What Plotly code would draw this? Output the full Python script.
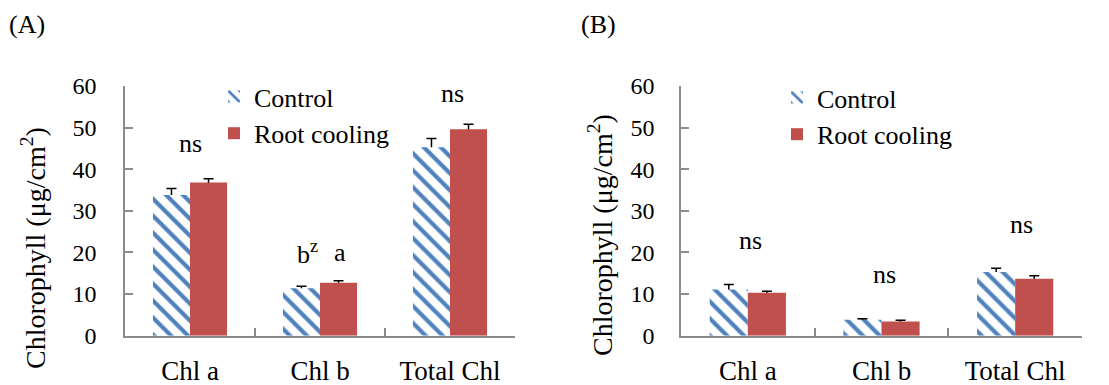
import plotly.graph_objects as go

categories = ["Chl a", "Chl b", "Total Chl"]

a_control = [33.8, 11.4, 45.3]
a_control_err = [1.6, 0.5, 2.1]
a_root = [36.8, 12.7, 49.6]
a_root_err = [0.9, 0.5, 1.2]

b_control = [11.1, 3.85, 15.3]
b_control_err = [1.2, 0.2, 0.9]
b_root = [10.3, 3.4, 13.7]
b_root_err = [0.4, 0.3, 0.7]

y_ticks = [0, 10, 20, 30, 40, 50, 60]

FONT = "Liberation Serif"
BLUE = "#4F81BD"
RED = "#C0504D"
AXIS = "#8C8C8C"

fig = go.Figure()

def add_panel(ctrl, ctrl_err, root, root_err, xa, ya, legend):
    # error bars drawn first (bars hide their lower half)
    for vals, errs, grp in ((ctrl, ctrl_err, "c"), (root, root_err, "r")):
        fig.add_trace(go.Bar(
            x=categories, y=vals, xaxis=xa, yaxis=ya, offsetgroup=grp,
            marker=dict(color="rgba(0,0,0,0)", line=dict(width=0)),
            error_y=dict(type="data", array=errs, color="black",
                         thickness=1.5, width=5),
            showlegend=False, hoverinfo="skip"))
    fig.add_trace(go.Bar(
        x=categories, y=ctrl, name="Control", xaxis=xa, yaxis=ya, legend=legend,
        offsetgroup="c",
        marker=dict(color="white", line=dict(width=0),
                    pattern=dict(shape="\\", fgcolor=BLUE, bgcolor="white",
                                 size=12, solidity=0.35, fillmode="replace"))))
    fig.add_trace(go.Bar(
        x=categories, y=root, name="Root cooling", xaxis=xa, yaxis=ya, legend=legend,
        offsetgroup="r",
        marker=dict(color=RED, line=dict(width=0))))

add_panel(a_control, a_control_err, a_root, a_root_err, "x", "y", "legend")
add_panel(b_control, b_control_err, b_root, b_root_err, "x2", "y2", "legend2")

ydom = [1 - 335.7 / 385, 1 - 86 / 385]

xaxis_common = dict(
    type="category", showline=True, linecolor=AXIS, linewidth=1.5,
    ticks="inside", tickson="boundaries", ticklen=8, tickcolor=AXIS, tickwidth=1.5,
    tickfont=dict(family=FONT, size=27, color="black"),
    showgrid=False, zeroline=False, ticklabelstandoff=10, automargin=False,
)
yaxis_common = dict(
    range=[0, 60], tickvals=y_ticks, showline=True, linecolor=AXIS, linewidth=1.5,
    ticks="inside", ticklen=8, tickcolor=AXIS, tickwidth=1.5,
    tickfont=dict(family=FONT, size=24, color="black"),
    showgrid=False, zeroline=False, automargin=False,
)

fig.update_layout(
    width=1109, height=385, autosize=False,
    margin=dict(l=0, r=0, t=0, b=0, pad=0, autoexpand=False),
    paper_bgcolor="white", plot_bgcolor="white",
    barmode="group", bargap=0.43, bargroupgap=0,
    font=dict(family=FONT, size=26, color="black"),
    xaxis=dict(domain=[125 / 1109, 515 / 1109], anchor="y", **xaxis_common),
    yaxis=dict(domain=ydom, anchor="x", ticklabelstandoff=22, **yaxis_common),
    xaxis2=dict(domain=[681 / 1109, 1082 / 1109], anchor="y2", **xaxis_common),
    yaxis2=dict(domain=ydom, anchor="x2", ticklabelstandoff=20, **yaxis_common),
    legend=dict(x=214 / 1109, y=1 - 73 / 385, xanchor="left", yanchor="top",
                bgcolor="rgba(0,0,0,0)", font=dict(family=FONT, size=26),
                itemwidth=30, tracegroupgap=0),
    legend2=dict(x=777 / 1109, y=1 - 74 / 385, xanchor="left", yanchor="top",
                 bgcolor="rgba(0,0,0,0)", font=dict(family=FONT, size=26),
                 itemwidth=30, tracegroupgap=0),
)

ann = []
def label(text, x, y, xref, yref, xshift=0, size=26):
    ann.append(dict(text=text, x=x, y=y, xref=xref, yref=yref, xshift=xshift,
                    showarrow=False, xanchor="center", yanchor="middle",
                    font=dict(family=FONT, size=size, color="black")))

# Panel A significance labels
label("ns", "Chl a", 46.3, "x", "y")
label("b<sup>z</sup>", "Chl b", 20.1, "x", "y", xshift=-13)
label("a", "Chl b", 20.1, "x", "y", xshift=20)
label("ns", "Total Chl", 58.1, "x", "y", xshift=2)
# Panel B significance labels
label("ns", "Chl a", 22.9, "x2", "y2", xshift=3)
label("ns", "Chl b", 14.8, "x2", "y2", xshift=3)
label("ns", "Total Chl", 26.8, "x2", "y2", xshift=6)

# Y titles
ann.append(dict(text="Chlorophyll (μg/cm<sup>2</sup>)", x=33 / 1109, y=1 - 248 / 385,
                xref="paper", yref="paper", textangle=-90, showarrow=False,
                xanchor="center", yanchor="middle",
                font=dict(family=FONT, size=28, color="black")))
ann.append(dict(text="Chlorophyll (μg/cm<sup>2</sup>)", x=600 / 1109, y=1 - 235 / 385,
                xref="paper", yref="paper", textangle=-90, showarrow=False,
                xanchor="center", yanchor="middle",
                font=dict(family=FONT, size=28, color="black")))
# Panel letters
ann.append(dict(text="(A)", x=7 / 1109, y=1 - 24 / 385, xref="paper", yref="paper",
                showarrow=False, xanchor="left", yanchor="middle",
                font=dict(family=FONT, size=26, color="black")))
ann.append(dict(text="(B)", x=579 / 1109, y=1 - 24 / 385, xref="paper", yref="paper",
                showarrow=False, xanchor="left", yanchor="middle",
                font=dict(family=FONT, size=26, color="black")))

fig.update_layout(annotations=ann)

fig.write_html("out.html", config={"displayModeBar": False},
               post_script="document.body.style.margin='0';")
